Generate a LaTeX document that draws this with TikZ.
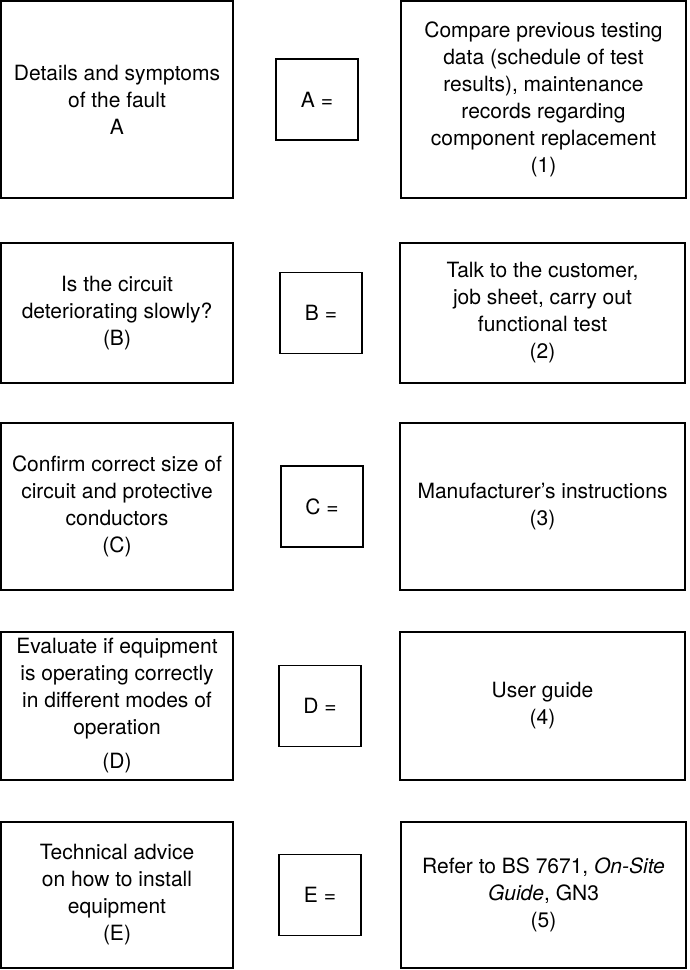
\documentclass[tikz,border=0pt]{standalone}
\usepackage{fontspec}
\setmainfont{TeX Gyre Heros}
\usetikzlibrary{positioning}
\tikzset{
  faultbox/.style={draw,line width=1.6pt,outer sep=0pt,inner sep=4pt,align=center,minimum width=232pt,font=\fontsize{21}{27}\selectfont},
  keybox/.style={draw,line width=1.6pt,outer sep=0pt,align=center,minimum width=82pt,minimum height=81pt,font=\fontsize{21}{27}\selectfont},
  srcbox/.style={faultbox,minimum width=285pt},
}

\begin{document}
\begin{tikzpicture}[x=1pt,y=-1pt]
\useasboundingbox (0,0) rectangle (689,970);
% left column: fault and question
\node[faultbox,minimum height=197pt](qa) at (117,99.5){Details and symptoms\\of the fault\\A};
\node[faultbox,minimum height=140pt,below=45pt of qa](qb){Is the circuit\\deteriorating slowly?\\(B)};
\node[faultbox,minimum height=167pt,below=40pt of qb](qc){Confirm correct size of\\circuit and protective\\conductors\\(C)};
\node[faultbox,minimum height=148pt,below=42pt of qc](qd){Evaluate if equipment\\is operating correctly\\in different modes of\\operation\\[7pt](D)};
\node[faultbox,minimum height=146pt,below=42pt of qd](qe){Technical advice\\on how to install\\equipment\\(E)};
% middle column: answer keys
\node[keybox,right=43pt of qa](ka){A =};
\node[keybox,right=47pt of qb](kb){B =};
\node[keybox,right=48pt of qc](kc){C =};
\node[keybox,right=46pt of qd](kd){D =};
\node[keybox,right=46pt of qe](ke){E =};
% right column: sources
\node[srcbox,minimum height=197pt,right=168pt of qa](sa){Compare previous testing\\data (schedule of test\\results), maintenance\\records regarding\\component replacement\\(1)};
\node[srcbox,minimum height=140pt,right=167pt of qb](sb){Talk to the customer,\\job sheet, carry out\\functional test\\(2)};
\node[srcbox,minimum height=167pt,right=167pt of qc](sc){Manufacturer’s instructions\\(3)};
\node[srcbox,minimum height=148pt,right=167pt of qd](sd){User guide\\(4)};
\node[srcbox,minimum height=146pt,right=168pt of qe](se){Refer to BS 7671, \textit{On-Site}\\\textit{Guide}, GN3\\(5)};
\end{tikzpicture}
\end{document}
